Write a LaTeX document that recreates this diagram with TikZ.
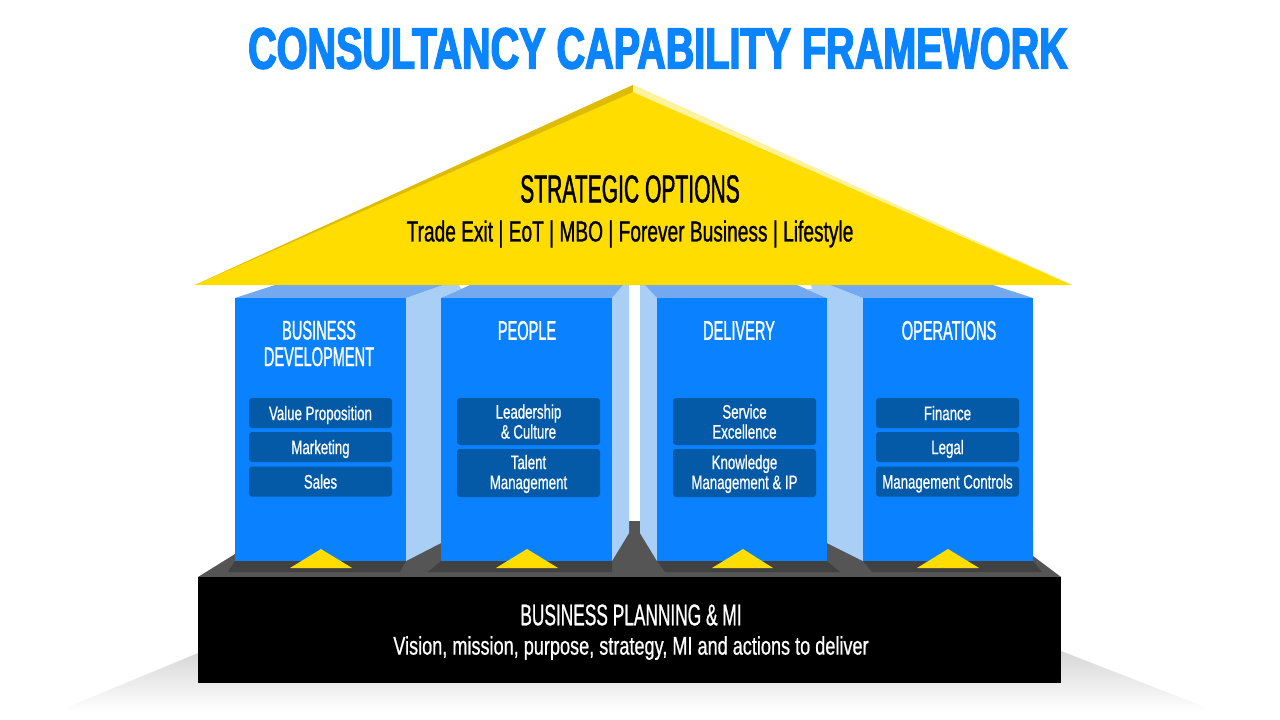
\documentclass[tikz,border=0pt]{standalone}
\usepackage{fontspec}
\setmainfont{Liberation Sans}
\newfontfamily\titlefont[FakeStretch=0.682,FakeBold=2.6]{Liberation Sans Bold}
\newfontfamily\headfont[FakeStretch=0.54,FakeBold=1]{Liberation Sans}
\newfontfamily\planfont[FakeStretch=0.577,FakeBold=0.7]{Liberation Sans}
\newfontfamily\linefont[FakeStretch=0.66,FakeBold=0.9]{Liberation Sans}
\newfontfamily\visionfont[FakeStretch=0.71,FakeBold=0.7]{Liberation Sans}
\newfontfamily\itemfont[FakeStretch=0.68,FakeBold=0.6]{Liberation Sans}
\usetikzlibrary{positioning}
\definecolor{titleblue}{HTML}{0A84FF}
\definecolor{pillarblue}{HTML}{0A82FF}
\definecolor{pillarside}{HTML}{AACFF6}
\definecolor{pillartop}{HTML}{72A9F1}
\definecolor{boxblue}{HTML}{045AA6}
\definecolor{roofyellow}{HTML}{FFDD00}
\definecolor{roofdark}{HTML}{DDBB08}
\definecolor{rooflight}{HTML}{FFF3A0}
\definecolor{basegray}{HTML}{555555}
\definecolor{stripgray}{HTML}{414141}
\tikzset{
	front/.style={fill=pillarblue},
	side/.style={fill=pillarside},
	roof/.style={fill=pillartop},
	base/.style={fill=basegray},
	strip/.style={fill=stripgray},
	marker/.style={fill=roofyellow},
	subbox/.style={fill=boxblue, rounded corners=3pt, text=white, minimum width=143pt,
		inner sep=0pt, text depth=0pt, align=center, font=\itemfont\fontsize{19.5}{20}\selectfont},
	pillartitle/.style={text=white, inner sep=0pt, align=center,
		font=\headfont\fontsize{27}{26.5}\selectfont},
}

\begin{document}
\begin{tikzpicture}[x=1pt, y=-1pt]
	\useasboundingbox (0,0) rectangle (1280,720);
	% floor shadow
	\shade[top color=black!16, bottom color=white] (68,707)--(198,653)--(1061,651)--(1205,707)--(1205,712)--(68,712)--cycle;
	% plinth
	\fill[base] (198,577)--(235,554)--(235,530)--(1033,530)--(1033,556)--(1061,577)--cycle;
	\fill[base] (629,521) rectangle (640,577);
	\fill[strip] (228,572)--(235,561)--(406,561)--(400,572)--cycle;
	\fill[strip] (428,572)--(441,561)--(612,561)--(612,572)--cycle;
	\fill[strip] (665,572)--(657,561)--(827,561)--(840,572)--cycle;
	\fill[strip] (872,572)--(863,561)--(1033,561)--(1042,572)--cycle;
	\fill[black] (198,577) rectangle (1061,683);
	% pillars
	\fill[side] (406,298)--(443,285)--(459,285)--(461,289)--(441,298)--(441,543)--(406,561)--cycle;
	\fill[roof] (235,298)--(275,285)--(443,285)--(406,298)--cycle;
	\fill[front] (235,298) rectangle (406,561);
	\fill[side] (612,298)--(623,285)--(629,285)--(629,533)--(612,561)--cycle;
	\fill[roof] (441,298)--(470,285)--(623,285)--(612,298)--cycle;
	\fill[front] (441,298) rectangle (612,561);
	\fill[side] (640,285)--(645,285)--(657,298)--(657,561)--(640,533)--cycle;
	\fill[roof] (645,285)--(797,285)--(827,298)--(657,298)--cycle;
	\fill[front] (657,298) rectangle (827,561);
	\fill[side] (811,285)--(830,285)--(863,298)--(863,561)--(827,543)--(827,298)--(806,289)--(812,289)--cycle;
	\fill[roof] (830,285)--(993,285)--(1033,298)--(863,298)--cycle;
	\fill[front] (863,298) rectangle (1033,561);
	% markers
	\fill[marker] (290,568)--(321,549)--(352,568)--cycle;
	\fill[marker] (496,568)--(527,549)--(558,568)--cycle;
	\fill[marker] (712,568)--(743,549)--(773,568)--cycle;
	\fill[marker] (917,568)--(948,549)--(979,568)--cycle;
	% roof
	\fill[roofyellow] (195,285)--(633,85)--(1072,285)--cycle;
	\fill[roofdark] (195,285)--(633,85)--(633,92)--cycle;
	\fill[rooflight] (1072,285)--(633,85)--(633,92)--cycle;
	% labels
	\node[text=titleblue, inner sep=0pt, font=\titlefont\fontsize{58}{58}\selectfont] (title) at (658,48.5) {CONSULTANCY CAPABILITY FRAMEWORK};
	\node[inner sep=0pt, font=\headfont\fontsize{39}{39}\selectfont] (options) at (630,189) {STRATEGIC OPTIONS};
	\node[inner sep=0pt, font=\linefont\fontsize{29}{29}\selectfont] (optionlist) at (630,234) {Trade Exit | EoT | MBO | Forever Business | Lifestyle};
	\node[pillartitle] (bizdev) at (319,343.5) {BUSINESS\\DEVELOPMENT};
	\node[pillartitle] (people) at (527,330.5) {PEOPLE};
	\node[pillartitle] (delivery) at (739,330.5) {DELIVERY};
	\node[pillartitle] (operations) at (949,330.5) {OPERATIONS};
	\node[subbox, minimum height=30pt] (value) at (320.5,413) {Value Proposition};
	\node[subbox, minimum height=30pt] (marketing) at (320.5,447) {Marketing};
	\node[subbox, minimum height=30pt] (sales) at (320.5,481.5) {Sales};
	\node[subbox, minimum height=47pt] (leadership) at (528.5,421.5) {Leadership\\\& Culture};
	\node[subbox, minimum height=48pt, text depth=2pt] (talent) at (528.5,473) {Talent\\Management};
	\node[subbox, minimum height=47pt] (service) at (744.5,421.5) {Service\\Excellence};
	\node[subbox, minimum height=48pt, text depth=2pt] (knowledge) at (744.5,473) {Knowledge\\Management \& IP};
	\node[subbox, minimum height=30pt] (finance) at (947.5,413) {Finance};
	\node[subbox, minimum height=30pt] (legal) at (947.5,447) {Legal};
	\node[subbox, minimum height=30pt] (controls) at (947.5,481.5) {Management Controls};
	\node[text=white, inner sep=0pt, font=\planfont\fontsize{30}{30}\selectfont] (planning) at (631,615) {BUSINESS PLANNING \& MI};
	\node[text=white, inner sep=0pt, font=\visionfont\fontsize{25.5}{26}\selectfont] (vision) at (631,648) {Vision, mission, purpose, strategy, MI and actions to deliver};
\end{tikzpicture}
\end{document}
